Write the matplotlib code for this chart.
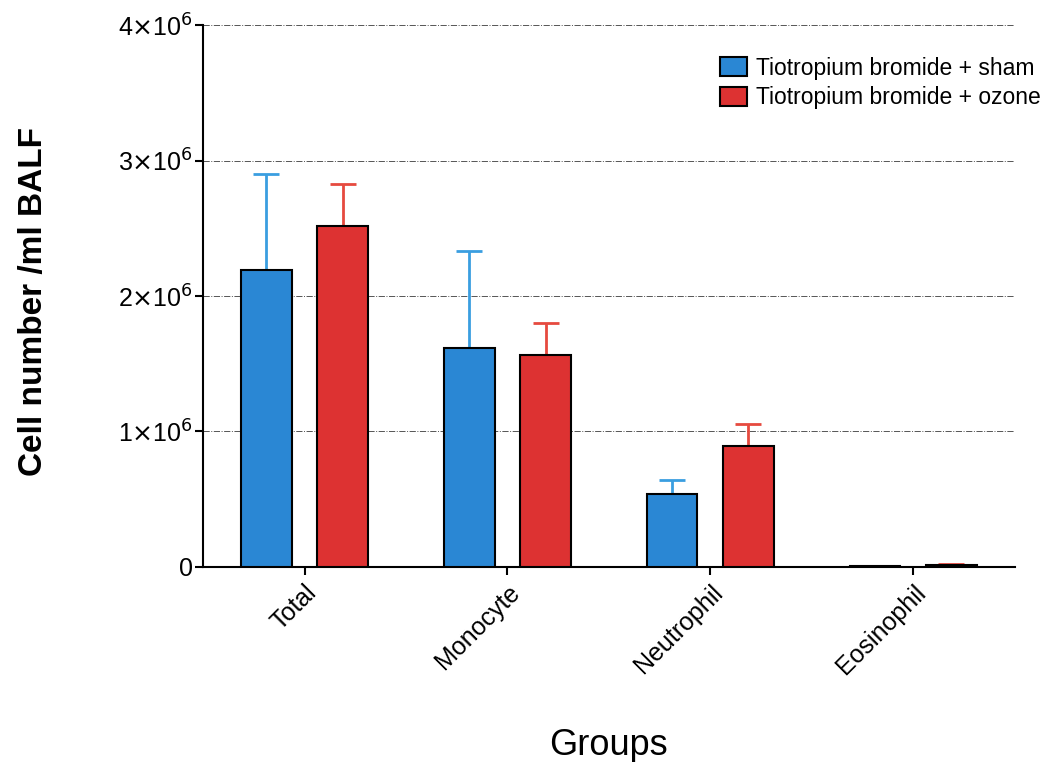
import numpy as np
import matplotlib.pyplot as plt
from matplotlib.ticker import FixedLocator

plt.rcParams['font.family'] = ['Liberation Sans', 'DejaVu Sans']

groups = ['Total', 'Monocyte', 'Neutrophil', 'Eosinophil']
sham = [2.19e6, 1.62e6, 0.54e6, 0.005e6]
sham_err = [0.71e6, 0.71e6, 0.10e6, 0.003e6]
ozone = [2.52e6, 1.565e6, 0.89e6, 0.015e6]
ozone_err = [0.31e6, 0.235e6, 0.165e6, 0.005e6]
series_names = ['Tiotropium bromide + sham', 'Tiotropium bromide + ozone']
ytick_vals = [0, 1e6, 2e6, 3e6, 4e6]
ytick_labels = ['0', r'1$\times$10$^6$', r'2$\times$10$^6$', r'3$\times$10$^6$', r'4$\times$10$^6$']

fig = plt.figure(figsize=(10.47, 7.62), dpi=100)
ax = fig.add_axes([0.194, 0.256, 0.775, 0.711])

x = np.arange(len(groups))
w = 0.25
off = 0.188

ax.bar(x - off, sham, w, color='#2a87d4', edgecolor='black', linewidth=1.5,
       label=series_names[0], zorder=3)
ax.bar(x + off, ozone, w, color='#dd3232', edgecolor='black', linewidth=1.5,
       label=series_names[1], zorder=3)
ax.errorbar(x - off, sham, yerr=[np.zeros(4), sham_err], fmt='none',
            ecolor='#3a9ee0', elinewidth=2, capsize=9.5, capthick=2, zorder=2)
ax.errorbar(x + off, ozone, yerr=[np.zeros(4), ozone_err], fmt='none',
            ecolor='#e64a3f', elinewidth=2, capsize=9.5, capthick=2, zorder=2)

ax.set_xlim(-0.5, 3.5)
ax.set_ylim(0, 4e6)
ax.yaxis.set_major_locator(FixedLocator(ytick_vals))
ax.set_yticklabels(ytick_labels, fontsize=18)
ax.set_xticks(x)
ax.set_xticklabels(groups, rotation=45, ha='right', rotation_mode='anchor', fontsize=18)
ax.tick_params(axis='both', direction='out', length=6, width=1.5)
ax.tick_params(axis='y', pad=1)

ax.yaxis.grid(True, linestyle='-.', color='#555555', linewidth=0.7, zorder=0)
ax.spines['top'].set_visible(False)
ax.spines['right'].set_visible(False)
ax.spines['left'].set_linewidth(1.5)
ax.spines['bottom'].set_linewidth(1.5)

ax.set_ylabel('Cell number /ml BALF', fontsize=24, fontweight='bold')
ax.set_xlabel('Groups', fontsize=26)
ax.yaxis.set_label_coords(-0.19, 0.49)
ax.xaxis.set_label_coords(0.5, -0.298)

leg = ax.legend(loc='upper right', bbox_to_anchor=(1.058, 0.98), frameon=False, fontsize=16.5,
                handlelength=1.2, handleheight=0.9, handletextpad=0.4, labelspacing=0.3)

plt.savefig('out.png', dpi=100)
